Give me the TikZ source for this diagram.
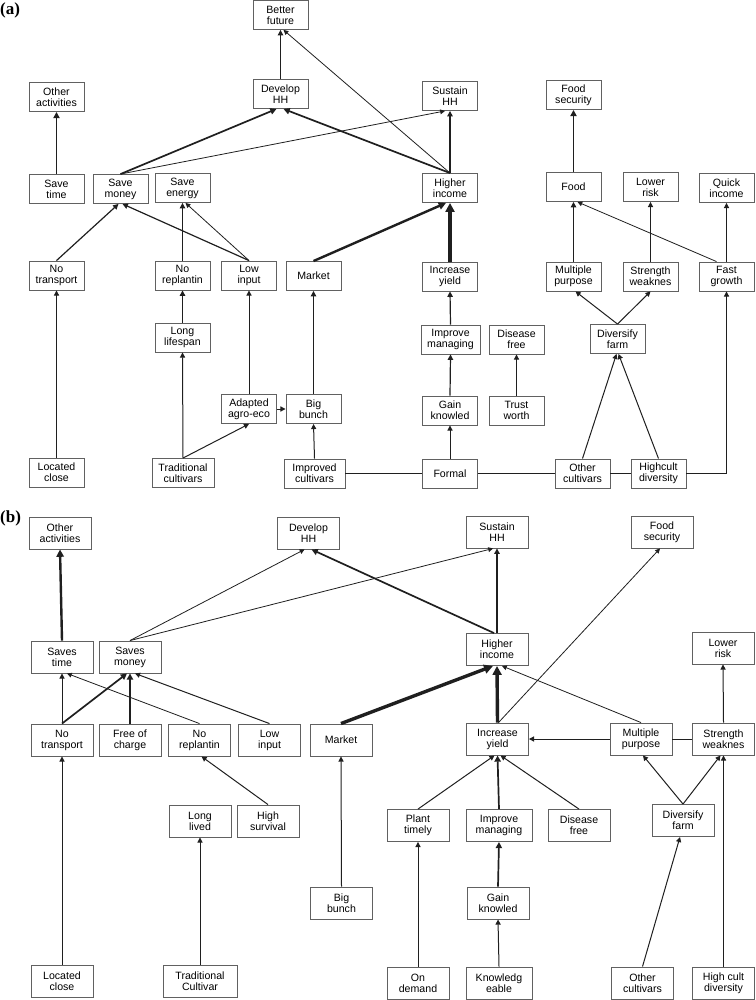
\documentclass[tikz,border=0pt]{standalone}
\usepackage{fontspec}
\setmainfont{Liberation Sans}
\newfontfamily\lblfont{Liberation Serif}
\usetikzlibrary{arrows.meta}
\begin{document}
\begin{tikzpicture}[x=1pt,y=-1pt,
  box/.style={draw=black!62, line width=0.9pt, minimum width=55pt, minimum height=29pt, inner sep=0pt, align=center, font=\fontsize{10.6}{11}\selectfont, fill=white},
  boxb/.style={box, minimum width=62pt, minimum height=32pt},
  lnk/.style={draw=black!88, line width=1pt},
  arr/.style={lnk, -{Triangle[length=3.5pt 1.6, width=3.5pt 1.6]}},
  w1/.style={line width=0.8pt}, w2/.style={line width=1.2pt}, w3/.style={line width=1.7pt},
  w4/.style={line width=2.4pt}, w5/.style={line width=3.4pt},
  lbl/.style={font=\lblfont\bfseries\fontsize{17}{17}\selectfont, inner sep=0pt, anchor=north west}
]
\path[use as bounding box] (0,0) rectangle (755,1000);
% ---------- (a) ----------
\node[lbl] (la) at (0,3) {(a)};
\node[box] (bf) at (280.5,15) {Better\\future};
\node[box] (oa) at (56.5,97) {Other\\activities};
\node[box] (dh) at (280.5,94) {Develop\\HH};
\node[box] (sh) at (450,96) {Sustain\\HH};
\node[box] (fs) at (573.5,95) {Food\\security};
\node[box] (st) at (56.5,189) {Save\\time};
\node[box] (sm) at (120.5,189) {Save\\money};
\node[box] (se) at (182.5,188) {Save\\energy};
\node[box] (hi) at (450,188) {Higher\\income};
\node[box] (fd) at (573.5,187) {Food};
\node[box] (lr) at (650.5,187) {Lower\\risk};
\node[box] (qi) at (726.5,188) {Quick\\income};
\node[box] (nt) at (56.5,275.5) {No\\transport};
\node[box] (nr) at (182.5,275.5) {No\\replantin};
\node[box] (li) at (249,275.5) {Low\\input};
\node[box] (mk) at (313.5,276) {Market};
\node[box] (iy) at (450,276.5) {Increase\\yield};
\node[box] (mp) at (573.5,276.5) {Multiple\\purpose};
\node[box] (sw) at (650.5,276.5) {Strength\\weaknes};
\node[box] (fg) at (726.5,276.5) {Fast\\growth};
\node[box] (ll) at (182.5,337.5) {Long\\lifespan};
\node[box, minimum width=59pt] (im) at (450.5,339.5) {Improve\\managing};
\node[box] (df) at (516.5,339.5) {Disease\\free};
\node[box] (dv) at (617.5,339) {Diversify\\farm};
\node[box] (ae) at (249,409) {Adapted\\agro-eco};
\node[box] (bb) at (313.5,409) {Big\\bunch};
\node[box] (gk) at (450,410.5) {Gain\\knowled};
\node[box] (tw) at (516.5,410.5) {Trust\\worth};
\node[box] (lc) at (56.5,472.5) {Located\\close};
\node[box, minimum width=62pt] (tc) at (183,473) {Traditional\\cultivars};
\node[box, minimum width=61pt] (ic) at (314.5,473.5) {Improved\\cultivars};
\node[box] (fo) at (450,473.5) {Formal};
\node[box] (oc) at (582.5,473.5) {Other\\cultivars};
\node[box] (hc) at (658.5,473.5) {Highcult\\diversity};

\draw[arr,w2] (dh.north) -- (bf.south);
\draw[arr,w1] (hi.north) -- ([xshift=3pt]bf.south);
\draw[arr,w3] (sm.north) -- ([xshift=-4pt]dh.south);
\draw[arr,w1] (sm.north) -- ([xshift=-5pt]sh.south);
\draw[arr,w3] (hi.north) -- ([xshift=3pt]dh.south);
\draw[arr,w2] (hi.north) -- (sh.south);
\draw[arr,w3] (st.north) -- (oa.south);
\draw[arr,w2] (nt.north) -- ([xshift=-2pt]sm.south);
\draw[arr,w2] (li.north) -- ([xshift=2pt]sm.south);
\draw[arr,w2] (nr.north) -- (se.south);
\draw[arr,w1] (li.north) -- ([xshift=3pt]se.south);
\draw[arr,w4] (mk.north) -- ([xshift=-4pt]hi.south);
\draw[arr,w5] (iy.north) -- (hi.south);
\draw[arr,w3] (fd.north) -- (fs.south);
\draw[arr,w2] (mp.north) -- (fd.south);
\draw[arr,w1] ([xshift=-10pt]fg.north) -- ([xshift=4pt]fd.south);
\draw[arr] (sw.north) -- (lr.south);
\draw[arr] (fg.north) -- (qi.south);
\draw[arr] (lc.north) -- (nt.south);
\draw[arr,w2] (ll.north) -- (nr.south);
\draw[arr] (tc.north) -- (ll.south);
\draw[arr] (tc.north) -- (ae.south);
\draw[arr] (ae.north) -- (li.south);
\draw[arr] (ae.east) -- (bb.west);
\draw[arr,w2] (bb.north) -- (mk.south);
\draw[arr] (ic.north) -- (bb.south);
\draw[lnk] (ic.east) -- (fo.west) (fo.east) -- (oc.west) (oc.east) -- (hc.west);
\draw[arr] (hc.east) -| (fg.south);
\draw[arr] (fo.north) -- (gk.south);
\draw[arr,w2] (gk.north) -- (im.south);
\draw[arr,w2] (im.north) -- (iy.south);
\draw[arr] (tw.north) -- (df.south);
\draw[arr] (dv.north) -- ([xshift=2pt]mp.south);
\draw[arr] (dv.north) -- (sw.south);
\draw[arr] (oc.north) -- ([xshift=-1pt]dv.south);
\draw[arr] (hc.north) -- ([xshift=1pt]dv.south);

% ---------- (b) ----------
\node[lbl] (lb) at (0,510) {(b)};
\node[boxb] (oa2) at (60,533) {Other\\activities};
\node[boxb] (dh2) at (308.5,533) {Develop\\HH};
\node[boxb] (sh2) at (497,532) {Sustain\\HH};
\node[boxb] (fs2) at (662,532) {Food\\security};
\node[boxb] (st2) at (62,657) {Saves\\time};
\node[boxb] (sm2) at (130,657) {Saves\\money};
\node[boxb] (hi2) at (497,649.5) {Higher\\income};
\node[boxb] (lr2) at (723,648) {Lower\\risk};
\node[boxb] (nt2) at (62,740) {No\\transport};
\node[boxb] (fc2) at (130,740) {Free of\\charge};
\node[boxb] (nr2) at (199.5,740) {No\\replantin};
\node[boxb] (li2) at (269.5,740) {Low\\input};
\node[boxb] (mk2) at (341,740) {Market};
\node[boxb] (iy2) at (497.5,739) {Increase\\yield};
\node[boxb] (mp2) at (641,739) {Multiple\\purpose};
\node[boxb] (sw2) at (723.5,739) {Strength\\weaknes};
\node[boxb] (lv2) at (200,821) {Long\\lived};
\node[boxb] (hs2) at (268,821) {High\\survival};
\node[boxb] (pt2) at (418,825.5) {Plant\\timely};
\node[boxb, minimum width=66pt] (im2) at (499,825.5) {Improve\\managing};
\node[boxb] (df2) at (579,825.5) {Disease\\free};
\node[boxb] (dv2) at (683,820.5) {Diversify\\farm};
\node[boxb] (bb2) at (341.5,903) {Big\\bunch};
\node[boxb] (gk2) at (498,903) {Gain\\knowled};
\node[boxb] (lc2) at (62,981) {Located\\close};
\node[boxb, minimum width=74pt] (tc2) at (200,981) {Traditional\\Cultivar};
\node[boxb] (od2) at (418,983) {On\\demand};
\node[boxb, minimum width=66pt] (kn2) at (499,983) {Knowledg\\eable};
\node[boxb] (oc2) at (642.5,983) {Other\\cultivars};
\node[boxb] (hc2) at (723.5,983) {High cult\\diversity};

\draw[arr,w4] (st2.north) -- (oa2.south);
\draw[arr,w1] (sm2.north) -- ([xshift=-4pt]dh2.south);
\draw[arr,w1] (sm2.north) -- ([xshift=-4pt]sh2.south);
\draw[arr,w3] ([xshift=-3pt]hi2.north) -- ([xshift=3pt]dh2.south);
\draw[arr,w2] (hi2.north) -- (sh2.south);
\draw[arr,w1] ([xshift=1pt]iy2.north) -- ([xshift=-2pt]fs2.south);
\draw[arr,w5] (mk2.north) -- ([xshift=-4pt]hi2.south);
\draw[arr,w5] (iy2.north) -- (hi2.south);
\draw[arr,w1] (mp2.north) -- ([xshift=5pt]hi2.south);
\draw[arr] (sw2.north) -- (lr2.south);
\draw[arr] (mp2.west) -- (iy2.east);
\draw[lnk] (sw2.west) -- (mp2.east);
\draw[arr] (nt2.north) -- (st2.south);
\draw[arr,w1] (nr2.north) -- ([xshift=5pt]st2.south);
\draw[arr,w3] (nt2.north) -- ([xshift=-3pt]sm2.south);
\draw[arr,w3] (fc2.north) -- (sm2.south);
\draw[arr] (li2.north) -- ([xshift=5pt]sm2.south);
\draw[arr] (hs2.north) -- ([xshift=2pt]nr2.south);
\draw[arr] (lc2.north) -- (nt2.south);
\draw[arr] (tc2.north) -- (lv2.south);
\draw[arr] (bb2.north) -- (mk2.south);
\draw[arr] (pt2.north) -- ([xshift=-3pt]iy2.south);
\draw[arr,w3] (im2.north) -- (iy2.south);
\draw[arr] (df2.north) -- ([xshift=3pt]iy2.south);
\draw[arr] (od2.north) -- (pt2.south);
\draw[arr] (kn2.north) -- (gk2.south);
\draw[arr,w3] (gk2.north) -- (im2.south);
\draw[arr] (dv2.north) -- ([xshift=2pt]mp2.south);
\draw[arr] (dv2.north) -- ([xshift=-3pt]sw2.south);
\draw[arr] (oc2.north) -- ([xshift=-3pt]dv2.south);
\draw[arr] (hc2.north) -- (sw2.south);
\end{tikzpicture}
\end{document}
